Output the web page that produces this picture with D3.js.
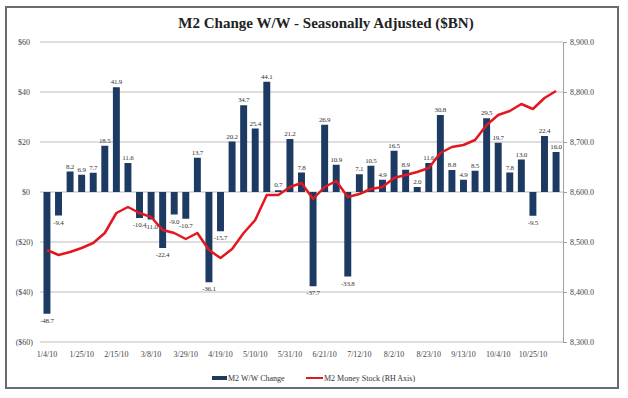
<!DOCTYPE html>
<html>
<head>
<meta charset="utf-8">
<script src="https://cdn.jsdelivr.net/npm/d3@7"></script>
<style>
  body { margin: 0; background: #fff; }
  svg text { font-family: "Liberation Serif", "Times New Roman", serif; }
</style>
</head>
<body>
<div id="chart"></div>
<script>
// weekly observations
const weeks = [
  "1/4/10", "1/11/10", "1/18/10", "1/25/10", "2/1/10", "2/8/10", "2/15/10", "2/22/10",
  "3/1/10", "3/8/10", "3/15/10", "3/22/10", "3/29/10", "4/5/10", "4/12/10", "4/19/10",
  "4/26/10", "5/3/10", "5/10/10", "5/17/10", "5/24/10", "5/31/10", "6/7/10", "6/14/10",
  "6/21/10", "6/28/10", "7/5/10", "7/12/10", "7/19/10", "7/26/10", "8/2/10", "8/9/10",
  "8/16/10", "8/23/10", "8/30/10", "9/6/10", "9/13/10", "9/20/10", "9/27/10", "10/4/10",
  "10/11/10", "10/18/10", "10/25/10", "11/1/10", "11/8/10"
];

// M2 W/W change ($BN)
const change = [
  -48.7, -9.4, 8.2, 6.9, 7.7, 18.5, 41.9, 11.6,
  -10.4, -11.0, -22.4, -9.0, -10.7, 13.7, -36.1, -15.7,
  20.2, 34.7, 25.4, 44.1, 0.7, 21.2, 7.8, -37.7,
  26.9, 10.9, -33.8, 7.1, 10.5, 4.9, 16.5, 8.9,
  2.0, 11.6, 30.8, 8.8, 4.9, 8.5, 29.5, 19.7,
  7.8, 13.0, -9.5, 22.4, 16.0
];

// M2 money stock (RH axis, $BN)
const stock = [
  8484, 8474, 8480, 8488, 8498, 8518, 8558, 8570,
  8558, 8550, 8524, 8518, 8506, 8518, 8484, 8468,
  8486, 8518, 8544, 8594, 8594, 8610, 8618, 8586,
  8610, 8622, 8590, 8596, 8606, 8610, 8628, 8634,
  8640, 8648, 8678, 8690, 8694, 8704, 8734, 8754,
  8762, 8776, 8766, 8788, 8802
];

const leftTicks = [-60, -40, -20, 0, 20, 40, 60];
const rightTicks = [8300, 8400, 8500, 8600, 8700, 8800, 8900];
const tickWeeks = weeks.filter((d, i) => i % 3 === 0);

const W = 628, H = 398;
const plot = { left: 40, right: 563, top: 42, bottom: 342 };
const barColor = "#1d3a62";
const lineColor = "#e3171f";

const svg = d3.select("#chart").append("svg")
  .attr("width", W)
  .attr("height", H);

// frame
svg.append("rect")
  .attr("x", 6).attr("y", 7)
  .attr("width", 612).attr("height", 381)
  .attr("fill", "#fff")
  .attr("stroke", "#6b6b6b")
  .attr("stroke-width", 2);

svg.append("text")
  .attr("x", 326).attr("y", 28)
  .attr("text-anchor", "middle")
  .attr("font-size", 15)
  .attr("font-weight", "bold")
  .attr("fill", "#222")
  .text("M2 Change W/W - Seasonally Adjusted ($BN)");

const x = d3.scaleBand()
  .domain(weeks)
  .range([plot.left, plot.right])
  .paddingInner(0.4)
  .paddingOuter(0.3);

const yL = d3.scaleLinear().domain([-60, 60]).range([plot.bottom, plot.top]);
const yR = d3.scaleLinear().domain([8300, 8900]).range([plot.bottom, plot.top]);

// gridlines
svg.append("g")
  .selectAll("line")
  .data(leftTicks)
  .join("line")
  .attr("x1", plot.left).attr("x2", plot.right)
  .attr("y1", d => yL(d)).attr("y2", d => yL(d))
  .attr("stroke", "#bdbdbd")
  .attr("stroke-width", 1);

// left axis
const fmtL = v => v < 0 ? `($${-v})` : `$${v}`;
const gL = svg.append("g")
  .attr("transform", `translate(${plot.left},0)`)
  .call(d3.axisLeft(yL).tickValues(leftTicks).tickSize(0).tickPadding(7).tickFormat(fmtL));
gL.select(".domain").remove();
gL.selectAll("text")
  .attr("font-size", 8)
  .attr("fill", "#444")
  .attr("dx", d => d >= 0 ? -3 : 0);

// right axis
const gR = svg.append("g")
  .attr("transform", `translate(${plot.right},0)`)
  .call(d3.axisRight(yR).tickValues(rightTicks).tickSize(4).tickPadding(3).tickFormat(d3.format(",.1f")));
gR.select(".domain").attr("stroke", "#a0a0a0");
gR.selectAll("line").attr("stroke", "#a0a0a0");
gR.selectAll("text").attr("font-size", 8).attr("fill", "#444");

// bottom axis labels
const gX = svg.append("g")
  .attr("transform", `translate(0,${plot.bottom})`)
  .call(d3.axisBottom(x).tickValues(tickWeeks).tickSize(0).tickPadding(9));
gX.select(".domain").remove();
gX.selectAll("text").attr("font-size", 8).attr("fill", "#444");

// bars
const rows = weeks.map((w, i) => ({ week: w, change: change[i], stock: stock[i] }));

svg.append("g")
  .selectAll("rect")
  .data(rows)
  .join("rect")
  .attr("x", d => x(d.week))
  .attr("width", x.bandwidth())
  .attr("y", d => yL(Math.max(0, d.change)))
  .attr("height", d => Math.abs(yL(d.change) - yL(0)))
  .attr("fill", barColor);

// data labels
svg.append("g")
  .selectAll("text")
  .data(rows)
  .join("text")
  .attr("x", d => x(d.week) + x.bandwidth() / 2)
  .attr("y", d => d.change >= 0 ? yL(d.change) - 3 : yL(d.change) + 9)
  .attr("text-anchor", "middle")
  .attr("font-size", 7)
  .attr("letter-spacing", -0.2)
  .attr("fill", "#333")
  .text(d => d.change.toFixed(1));

// money stock line
const line = d3.line()
  .x(d => x(d.week) + x.bandwidth() / 2)
  .y(d => yR(d.stock));

svg.append("path")
  .datum(rows)
  .attr("d", line)
  .attr("fill", "none")
  .attr("stroke", lineColor)
  .attr("stroke-width", 2.5)
  .attr("stroke-linejoin", "round");

// legend
const lg = svg.append("g").attr("transform", "translate(0,378)");
lg.append("rect")
  .attr("x", 212).attr("y", -2)
  .attr("width", 15).attr("height", 4)
  .attr("fill", barColor);
lg.append("text")
  .attr("x", 228).attr("y", 3)
  .attr("font-size", 8).attr("fill", "#333")
  .text("M2 W/W Change");
lg.append("line")
  .attr("x1", 306).attr("x2", 323)
  .attr("y1", 0).attr("y2", 0)
  .attr("stroke", lineColor)
  .attr("stroke-width", 2);
lg.append("text")
  .attr("x", 324).attr("y", 3)
  .attr("font-size", 8).attr("fill", "#333")
  .text("M2 Money Stock (RH Axis)");
</script>
</body>
</html>
